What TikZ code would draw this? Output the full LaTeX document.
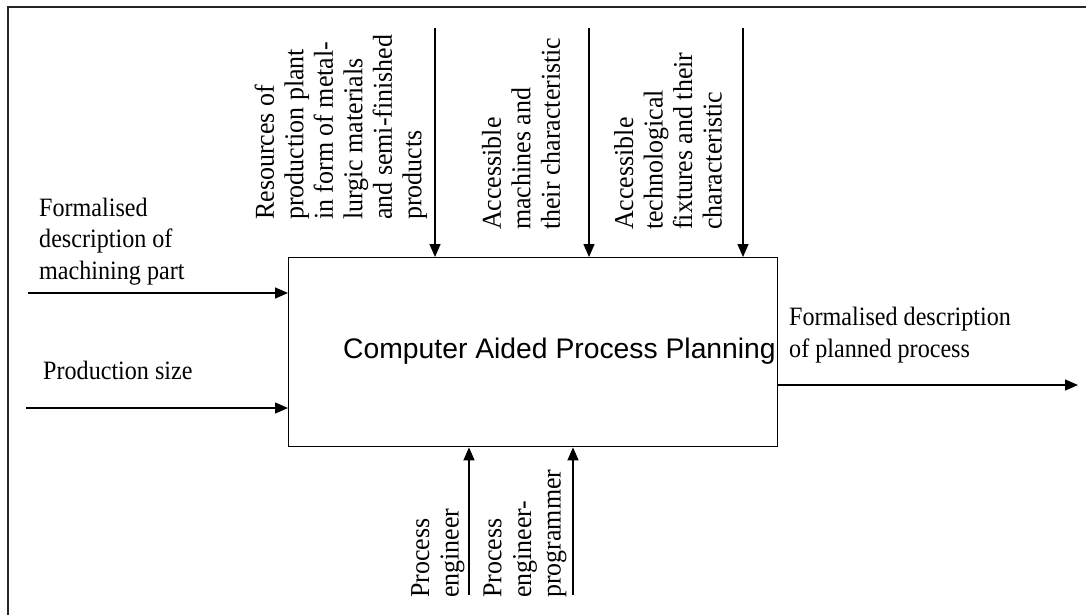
\documentclass[tikz,border=0pt]{standalone}
\usepackage{fontspec}
\setmainfont{Liberation Serif}
\newfontfamily\hserif[FakeStretch=0.91]{Liberation Serif}
\newfontfamily\vserif[FakeStretch=0.95]{Liberation Serif}
\newfontfamily\arialf{Liberation Sans}
\usetikzlibrary{arrows.meta}
\begin{document}
\begin{tikzpicture}[x=1pt,y=-1pt,
  conn/.style={line width=1.4pt,-{Triangle[width=11pt,length=13pt]}},
  htext/.style={font=\hserif\fontsize{26.5}{31.5}\selectfont, align=left, inner sep=0pt, anchor=base west},
  vtext/.style={font=\vserif\fontsize{27.3}{29.5}\selectfont, align=left, inner sep=0pt, rotate=90, anchor=west},
  ]
\useasboundingbox (0,0) rectangle (1086,615);
\draw[line width=2.2pt, black!85] (8,615) -- (8,7) -- (1086,7);
\node[draw, line width=1.4pt, minimum width=489pt, minimum height=189pt, anchor=north west, inner sep=0pt] (box) at (288,257) {};
\node[font=\arialf\fontsize{28.3}{30}\selectfont, anchor=base west, inner sep=0pt] (lbl) at (343,358) {Computer Aided Process Planning};

% inputs
\coordinate (in1) at (28,293);
\coordinate (in2) at (26,408);
\draw[conn] (in1) -- (in1 -| box.west);
\draw[conn] (in2) -- (in2 -| box.west);
\node[htext] (lin1) at (39,279) {Formalised\\description of\\machining part};
\node[htext] (lin2) at (43,379) {Production size};

% output
\coordinate (out) at (1078,385);
\draw[conn] (box.east |- out) -- (out);
\node[htext] (lout) at (789,357) {Formalised description\\of planned process};

% controls
\coordinate (t1) at (435,28);
\coordinate (t2) at (589,28);
\coordinate (t3) at (743,28);
\draw[conn] (t1) -- (box.north -| t1);
\draw[conn] (t2) -- (box.north -| t2);
\draw[conn] (t3) -- (box.north -| t3);
\node[vtext] (lt1) at (341,220) {Resources of\\production plant\\in form of metal-\\lurgic materials\\and semi-finished\\products};
\node[vtext] (lt2) at (521,230) {Accessible\\machines and\\their characteristic};
\node[vtext] (lt3) at (668,230) {Accessible\\technological\\fixtures and their\\characteristic};

% mechanisms
\coordinate (b1) at (469,595);
\coordinate (b2) at (573,595);
\draw[conn] (b1) -- (box.south -| b1);
\draw[conn] (b2) -- (box.south -| b2);
\node[vtext] (lb1) at (438,598) {Process\\engineer};
\node[vtext] (lb2) at (525,598) {Process\\engineer-\\programmer};
\end{tikzpicture}
\end{document}
